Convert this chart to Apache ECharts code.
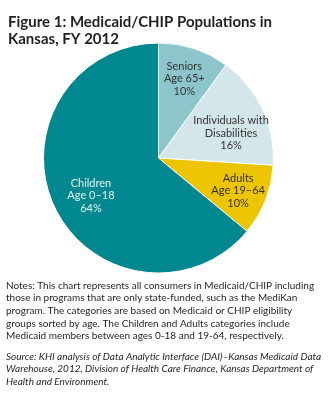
<!DOCTYPE html>
<html><head><meta charset="utf-8">
<script src="https://cdn.jsdelivr.net/npm/echarts@6/dist/echarts.min.js"></script>
<style>html,body{margin:0;padding:0;background:#fff;}#c{width:332px;height:394px;}</style>
</head><body><div id="c"></div>
<script>
const categories = ['Seniors\nAge 65+', 'Individuals with\nDisabilities', 'Adults\nAge 19–64', 'Children\nAge 0–18'];
const values = [10, 16, 10, 64];
const colors = ['#8cc6cc', '#d3e7eb', '#ecc500', '#00878f'];
const labelColors = ['#333', '#333', '#333', '#e6f4f5'];
const labelOffsets = [[0, 0], [-3, 11], [2, 2], [8, 2]];
const titleLines = ['Figure 1: Medicaid/CHIP Populations in', 'Kansas, FY 2012'];
const notesLines = [
  'Notes: This chart represents all consumers in Medicaid/CHIP including',
  'those in programs that are only state-funded, such as the MediKan',
  'program. The categories are based on Medicaid or CHIP eligibility',
  'groups sorted by age. The Children and Adults categories include',
  'Medicaid members between ages 0-18 and 19-64, respectively.'
];
const sourceLines = [
  'Source: KHI analysis of Data Analytic Interface (DAI)–Kansas Medicaid Data',
  'Warehouse, 2012, Division of Health Care Finance, Kansas Department of',
  'Health and Environment.'
];
const font = 'Lato';
const chart = echarts.init(document.getElementById('c'));
const data = categories.map((c, i) => ({
  name: c, value: values[i],
  itemStyle: { color: colors[i] },
  label: { color: labelColors[i], offset: labelOffsets[i] }
}));
chart.setOption({
  animation: false,
  title: {
    text: titleLines.join('\n'), left: 3, top: 9,
    textStyle: { fontFamily: font, fontWeight: 'bold', fontSize: 15, color: '#231f20', lineHeight: 17 }
  },
  series: [{
    type: 'pie', radius: [0, 115], center: [158.5, 158], startAngle: 90, clockwise: true,
    data: data.map(d => ({ ...d, label: { show: false } })),
    itemStyle: { borderColor: '#fff', borderWidth: 1 },
    label: { show: false }, labelLine: { show: false }, silent: true
  }, {
    type: 'pie', radius: [46, 115], center: [158.5, 158], startAngle: 90, clockwise: true,
    data: data.map(d => ({ ...d, itemStyle: { color: 'rgba(0,0,0,0)' } })),
    label: {
      show: true, position: 'inside', fontFamily: font, fontSize: 11, lineHeight: 12.5,
      formatter: p => p.name + '\n' + p.value + '%'
    },
    labelLine: { show: false }, silent: true
  }],
  graphic: [{
    type: 'text', left: 6, top: 279,
    style: { text: notesLines.join('\n'), font: '10px Lato', lineHeight: 12.7, fill: '#231f20' }
  }, {
    type: 'text', left: 6, top: 350,
    style: { text: sourceLines.join('\n'), font: 'italic 10px Lato', lineHeight: 12.7, fill: '#231f20' }
  }]
});
</script></body></html>
